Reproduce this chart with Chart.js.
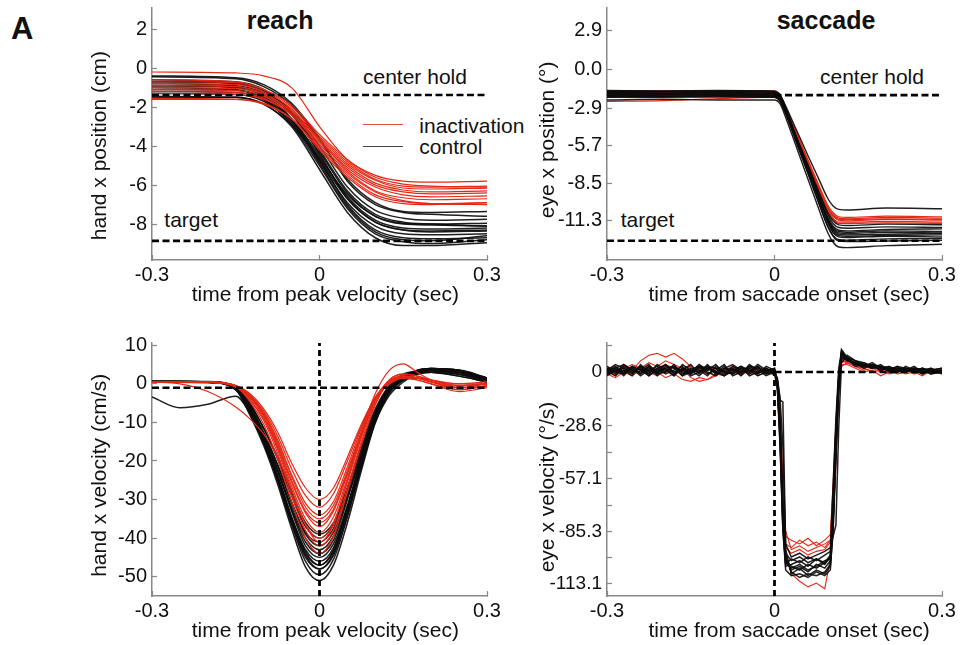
<!DOCTYPE html>
<html><head><meta charset="utf-8">
<script src="https://cdn.jsdelivr.net/npm/chart.js@4.4.0/dist/chart.umd.min.js"></script>
<style>
html,body{margin:0;padding:0;background:#fff;width:966px;height:645px;overflow:hidden;position:relative;font-family:"Liberation Sans",Arial,Helvetica,sans-serif;color:#111}
.box{position:absolute}
.t{position:absolute;white-space:pre;line-height:1;color:#111}
.lg{position:absolute;height:0;width:40px}
</style></head><body>
<div class="t" style="left:11px;top:13.3px;font-size:31px;font-weight:bold">A</div>
<div class="t" style="left:246.7px;top:8.1px;font-size:25px;font-weight:bold">reach</div>
<div class="t" style="left:776.7px;top:8.1px;font-size:25px;font-weight:bold">saccade</div>
<div class="t" style="left:363px;top:66.2px;font-size:21px">center hold</div>
<div class="t" style="left:820px;top:66.2px;font-size:21px">center hold</div>
<div class="t" style="left:164.3px;top:208.9px;font-size:21px">target</div>
<div class="t" style="left:620.7px;top:208.9px;font-size:21px">target</div>
<div class="lg" style="left:363px;top:124px;border-top:1.5px solid #e0503c"></div>
<div class="lg" style="left:363px;top:146px;border-top:1.5px solid #444"></div>
<div class="t" style="left:419.3px;top:114.5px;font-size:21px">inactivation</div>
<div class="t" style="left:419.3px;top:135.5px;font-size:21px">control</div>
<script>
// ---------------- DATA ----------------
const X_TICKS = [-0.3, 0, 0.3];
const X_TICK_LABELS = ['-0.3', '0', '0.3'];

// Top-left: hand x position (cm)
const REACH_POS_Y_TICKS = [2, 0, -2, -4, -6, -8];
const REACH_POS_Y_LABELS = ['2', '0', '-2', '-4', '-6', '-8'];
const REACH_CENTER_HOLD = -1.38;
const REACH_TARGET = -8.86;
const REACH_POS_TIME = [-0.3, -0.15, -0.1, -0.05, 0, 0.05, 0.1, 0.15, 0.2, 0.3];
const REACH_POS_RED = [
  [-0.2, -0.25, -0.4, -1.0, -3.0, -4.7, -5.5, -5.8, -5.85, -5.8],
  [-0.6, -0.7, -1.1, -2.0, -3.5, -4.8, -5.7, -6.05, -6.1, -6.05],
  [-0.9, -0.95, -1.3, -2.2, -3.7, -5.0, -5.9, -6.25, -6.35, -6.3],
  [-1.1, -1.15, -1.45, -2.3, -3.8, -5.1, -6.0, -6.35, -6.45, -6.4],
  [-1.3, -1.35, -1.6, -2.4, -3.9, -5.3, -6.3, -6.65, -6.75, -6.7],
  [-1.55, -1.6, -1.8, -2.6, -4.1, -5.5, -6.5, -6.85, -6.95, -6.9],
  [-0.8, -0.85, -1.2, -2.1, -3.7, -5.2, -6.1, -6.5, -6.6, -6.55],
  [-1.2, -1.25, -1.55, -2.4, -4.0, -5.4, -6.35, -6.8, -6.95, -7.0],
  [-1.0, -1.05, -1.35, -2.2, -3.6, -4.9, -5.75, -6.15, -6.2, -6.15],
  [-1.6, -1.6, -1.85, -2.6, -4.2, -5.6, -6.6, -6.95, -7.0, -6.9],
  [-0.7, -0.75, -1.1, -1.9, -3.4, -4.7, -5.6, -5.95, -6.05, -6.1]
];
const REACH_POS_BLACK = [
  [-0.45, -0.55, -0.95, -1.9, -3.7, -5.7, -6.9, -7.35, -7.4, -7.35],
  [-0.7, -0.8, -1.2, -2.2, -4.0, -6.1, -7.3, -7.7, -7.8, -7.75],
  [-0.9, -0.95, -1.3, -2.4, -4.3, -6.4, -7.6, -8.0, -8.05, -8.1],
  [-1.1, -1.15, -1.5, -2.6, -4.5, -6.6, -7.8, -8.2, -8.25, -8.2],
  [-0.6, -0.7, -1.1, -2.3, -4.4, -6.7, -7.9, -8.3, -8.4, -8.35],
  [-1.3, -1.35, -1.7, -2.8, -4.8, -6.9, -8.1, -8.5, -8.55, -8.5],
  [-0.8, -0.9, -1.35, -2.6, -4.7, -7.0, -8.3, -8.7, -8.75, -8.7],
  [-1.0, -1.1, -1.6, -2.9, -5.0, -7.2, -8.5, -8.9, -9.0, -8.8],
  [-1.45, -1.5, -1.85, -3.0, -5.2, -7.4, -8.7, -9.1, -9.1, -8.95],
  [-0.4, -0.5, -0.85, -1.8, -3.6, -5.8, -7.0, -7.4, -7.5, -7.6],
  [-1.2, -1.25, -1.6, -2.7, -4.6, -6.5, -7.6, -7.95, -8.0, -7.95],
  [-0.9, -1.0, -1.45, -2.7, -4.9, -7.1, -8.4, -8.8, -8.85, -8.6],
  [-1.5, -1.5, -1.85, -2.9, -4.7, -6.7, -7.9, -8.3, -8.35, -8.3],
  [-0.7, -0.75, -1.15, -2.3, -4.2, -6.3, -7.5, -7.9, -8.0, -8.1]
];

// Top-right: eye x position (deg)
const SACC_POS_Y_TICKS = [2.9, 0, -2.9, -5.7, -8.5, -11.3];
const SACC_POS_Y_LABELS = ['2.9', '0.0', '-2.9', '-5.7', '-8.5', '-11.3'];
const SACC_CENTER_HOLD = -1.94;
const SACC_TARGET = -12.79;
const SACC_POS_TIME = [-0.3, -0.2, -0.1, -0.02, 0, 0.01, 0.02, 0.04, 0.06, 0.08, 0.095, 0.105, 0.115, 0.13, 0.2, 0.3];
const SACC_POS_BLACK = [
  [-1.7, -1.68, -1.72, -1.7, -1.72, -1.95, -2.75, -4.6, -6.45, -8.25, -9.6, -10.2, -10.45, -10.5, -10.35, -10.4],
  [-1.9, -1.88, -1.92, -1.9, -1.92, -2.2, -3.1, -5.2, -7.25, -9.3, -10.8, -11.5, -11.8, -11.85, -11.75, -11.8],
  [-2.0, -2.02, -1.98, -2.0, -2.02, -2.3, -3.2, -5.35, -7.45, -9.6, -11.1, -11.8, -12.1, -12.15, -12.05, -12.1],
  [-1.6, -1.62, -1.6, -1.62, -1.65, -1.95, -2.9, -5.15, -7.4, -9.6, -11.2, -12.0, -12.3, -12.35, -12.3, -12.25],
  [-1.8, -1.8, -1.82, -1.8, -1.8, -2.1, -3.1, -5.35, -7.6, -9.8, -11.4, -12.2, -12.5, -12.55, -12.45, -12.5],
  [-2.1, -2.1, -2.08, -2.1, -2.1, -2.4, -3.35, -5.6, -7.8, -10.05, -11.65, -12.4, -12.7, -12.75, -12.65, -12.6],
  [-1.75, -1.78, -1.75, -1.78, -1.78, -2.05, -3.0, -5.15, -7.3, -9.45, -11.0, -11.7, -12.0, -12.05, -11.95, -11.9],
  [-2.3, -2.25, -2.3, -2.3, -2.3, -2.6, -3.6, -5.9, -8.2, -10.5, -12.15, -12.9, -13.25, -13.3, -13.15, -13.05],
  [-1.85, -1.85, -1.87, -1.85, -1.87, -2.2, -3.15, -5.45, -7.75, -10.05, -11.7, -12.45, -12.8, -12.85, -12.8, -12.75],
  [-1.95, -1.95, -1.93, -1.95, -1.95, -2.25, -3.1, -5.15, -7.15, -9.2, -10.65, -11.3, -11.6, -11.65, -11.55, -11.6],
  [-1.65, -1.67, -1.65, -1.65, -1.67, -2.0, -2.95, -5.2, -7.45, -9.7, -11.3, -12.1, -12.4, -12.45, -12.4, -12.35],
  [-2.05, -2.05, -2.03, -2.05, -2.05, -2.35, -3.25, -5.4, -7.55, -9.65, -11.2, -11.9, -12.2, -12.25, -12.15, -12.2]
];
const SACC_POS_RED = [
  [-1.8, -1.78, -1.8, -1.8, -1.82, -2.1, -2.9, -4.85, -6.75, -8.7, -10.1, -10.7, -11.0, -11.05, -10.95, -11.0],
  [-2.0, -2.0, -1.98, -2.0, -2.02, -2.3, -3.1, -5.05, -6.95, -8.9, -10.3, -10.9, -11.2, -11.2, -11.15, -11.2],
  [-1.6, -1.62, -1.6, -1.6, -1.62, -1.9, -2.8, -4.85, -6.9, -8.95, -10.4, -11.1, -11.4, -11.4, -11.35, -11.4],
  [-2.4, -2.35, -2.2, -2.1, -2.1, -2.4, -3.3, -5.2, -7.05, -8.9, -10.25, -10.85, -11.1, -11.15, -11.05, -11.1],
  [-1.9, -1.9, -1.88, -1.9, -1.9, -2.2, -3.05, -5.05, -7.1, -9.1, -10.55, -11.2, -11.5, -11.5, -11.45, -11.5],
  [-1.7, -1.72, -1.7, -1.7, -1.72, -2.0, -2.85, -4.85, -6.85, -8.85, -10.3, -10.95, -11.25, -11.3, -11.2, -11.25]
];

// Bottom-left: hand x velocity (cm/s)
const REACH_VEL_Y_TICKS = [10, 0, -10, -20, -30, -40, -50];
const REACH_VEL_Y_LABELS = ['10', '0', '-10', '-20', '-30', '-40', '-50'];
const REACH_VEL_ZERO = -1;
const REACH_VEL_TIME = [-0.3, -0.25, -0.2, -0.15, -0.125, -0.1, -0.075, -0.05, -0.025, 0, 0.025, 0.05, 0.075, 0.1, 0.125, 0.15, 0.175, 0.2, 0.25, 0.3];
const REACH_VEL_RED = [
  [0.5, 0.5, 0.4, -0.8, -4.5, -10.5, -19.5, -30.5, -40, -44, -39.5, -28, -16, -5.5, 0.5, 2, 1.5, 0.5, -0.5, 0],
  [0.6, 0.6, 0.5, -0.6, -4, -9.5, -18, -29, -38, -42, -38, -27, -15, -5, 0.5, 2, 1.5, 0.5, -1, -0.5],
  [0.5, 0.5, 0.4, -0.8, -4, -9, -17, -27.5, -36.5, -40, -36, -25.5, -14, -4.5, 1, 2.5, 2, 1, 0, 0.5],
  [0.6, 0.5, 0.5, -0.5, -3.5, -8.5, -16.5, -26.5, -35, -38.5, -34.5, -24.5, -13.5, -4, 1, 2.5, 2, 1, -0.5, 0],
  [0.5, 0.5, 0.4, -0.6, -3.5, -8, -16, -25.5, -33.5, -37, -33, -23.5, -13, -4, 0.5, 2, 1.5, 0.5, -1.5, -0.5],
  [0.6, 0.6, 0.5, -0.5, -3.2, -8, -15.5, -25, -33, -36, -32.5, -23, -12.5, -4, 0.5, 1.5, 1, 0, -2, -1],
  [0.5, 0.5, 0.4, -0.6, -3.2, -7.5, -15, -24, -32, -35, -31.5, -22.5, -12.5, -4, 0, 1.5, 1.5, 1, 0, 0],
  [0.5, 0.5, 0.4, -0.5, -3, -7.5, -14.5, -23.5, -31, -34, -30.5, -21.5, -11.5, -3.5, 0.5, 2, 1.5, 1, -0.5, 0],
  [0.6, 0.6, 0.5, -0.4, -2.8, -7, -13.5, -22, -29, -32, -28.5, -20, -11, -3.5, 0.5, 1.5, 1, 0, -1.5, -0.5],
  [0.5, 0.5, 0.4, -0.5, -2.5, -6.5, -12.5, -20.5, -27, -30, -27, -19, -10.5, -3.5, 0, 1.5, 1.5, 0.5, -1, 0],
  [0.5, 0, -2, -6, -9, -13, -19, -27.5, -36.5, -41, -36.5, -25, -12.5, -2.5, 3.5, 5.2, 3, 1, -0.5, 0]
];
const REACH_VEL_BLACK = [
  [0.6, 0.6, 0.5, -1.5, -8, -16, -26, -37.5, -47.5, -51, -47, -36, -22.5, -10, -2.5, 1, 3, 3.5, 3, 1],
  [0.5, 0.5, 0.4, -1.2, -7, -15, -25, -36.5, -46, -49.5, -45.5, -34.5, -21.5, -9.5, -2, 1.5, 3.5, 4, 3.5, 1.5],
  [0.7, 0.7, 0.5, -1.5, -7.5, -15.5, -25, -36, -45, -48, -44, -33, -20.5, -9, -1.5, 1.5, 3, 3.5, 3, 1],
  [0.4, 0.4, 0.3, -1, -6.5, -14, -23.5, -34.5, -43.5, -47, -43.5, -33, -21, -10, -3, 0.5, 2.5, 3, 3.5, 1.5],
  [0.6, 0.6, 0.5, -1.3, -7, -14.5, -24, -34.5, -43, -46, -42.5, -32, -19.5, -8.5, -1.5, 1.5, 3, 3.5, 2.5, 0.5],
  [0.5, 0.5, 0.4, -1, -6, -13.5, -22.5, -33, -42, -45, -41.5, -31.5, -20, -9, -2, 1, 3, 3.5, 3, 1.5],
  [0.6, 0.6, 0.6, -0.8, -5.5, -13, -22, -32.5, -41, -44, -40.5, -30, -18.5, -8, -1.5, 1.5, 3.5, 4, 3.5, 1],
  [0.5, 0.5, 0.4, -1.2, -6.5, -14, -22.5, -32, -40, -43, -39.5, -29.5, -18, -7.5, -1, 2, 3.5, 4, 3, 1],
  [0.7, 0.6, 0.5, -0.8, -5.5, -12.5, -21, -31, -39, -42, -38.5, -29, -18, -8, -1.5, 1, 3, 3.5, 3, 1.5],
  [0.5, 0.5, 0.4, -1, -6, -13, -21, -30.5, -38.5, -41, -37.5, -28, -17, -7.5, -1.5, 1.5, 3, 3.5, 2.5, 1],
  [0.6, 0.6, 0.5, -0.7, -5, -11.5, -19.5, -29, -37, -40, -36.5, -27, -16, -6.5, -0.5, 2, 3.5, 4, 3.5, 1.5],
  [0.5, 0.5, 0.4, -0.8, -5, -11.5, -19, -28, -36, -39, -36, -27, -16.5, -7, -1, 1.5, 3, 3, 2, 0.5],
  [-3.4, -6.2, -5.3, -3.2, -7.5, -15, -24.5, -35.5, -44.5, -48, -44.5, -34, -21.5, -9.5, -2, 1, 2.5, 3, 2.5, 1],
  [0.5, 0.5, 0.4, -1.5, -7, -15, -24.5, -35, -44, -47, -43, -32, -19, -7.5, -0.5, 2.5, 3.2, 3, 2, 0.5]
];

// Bottom-right: eye x velocity (deg/s)
const SACC_VEL_Y_TICKS = [14.1, 0, -14.3, -28.6, -42.9, -57.1, -71.2, -85.3, -99.2, -113.1];
const SACC_VEL_Y_LABELS = ['', '0', '', '-28.6', '', '-57.1', '', '-85.3', '', '-113.1'];
const SACC_VEL_TIME = [-0.3, -0.285, -0.27, -0.255, -0.24, -0.225, -0.21, -0.195, -0.18, -0.165, -0.15, -0.135, -0.12, -0.105, -0.09, -0.075, -0.06, -0.045, -0.03, -0.015, 0,
  0.005, 0.01, 0.015, 0.02, 0.03, 0.045, 0.06, 0.075, 0.09, 0.1, 0.105, 0.11, 0.115, 0.12, 0.13,
  0.145, 0.16, 0.175, 0.19, 0.205, 0.22, 0.235, 0.25, 0.265, 0.28, 0.3];
const SACC_VEL_BLACK = [
  [1, -2, 3, 0, 2, -1, 4, 1, -2, 2, 0, 3, -1, 1, 4, -2, 0, 2, -1, 3, 1, -6, -32, -78, -101, -104, -106, -103, -105, -102, -99, -72, -36, -4, 9, 6, 5, 3, 4, 2, 3, 1, 2, 0, 2, 1, 0],
  [-1, 2, -2, 3, 1, 4, -1, 0, 3, -2, 2, 1, -2, 3, 0, 2, -1, 4, 1, -2, 0, -4, -15, -16, -95, -108, -105, -109, -106, -108, -104, -86, -45, -10, 7, 8, 6, 4, 2, 3, 1, 3, 0, 2, -1, 1, 2],
  [3, 0, 1, -2, 4, 0, 2, -1, 1, 3, -2, 0, 4, -1, 2, 1, 3, -2, 0, 2, -1, -8, -40, -85, -103, -100, -102, -99, -101, -98, -96, -60, -25, 2, 11, 7, 4, 5, 3, 1, 2, 0, 3, 1, 2, -1, 1],
  [0, 3, -1, 2, -2, 1, 3, 0, 4, -1, 1, -2, 2, 0, 3, -1, 2, 1, -2, 0, 2, -5, -28, -70, -98, -107, -110, -108, -109, -107, -103, -80, -40, -6, 8, 6, 5, 2, 4, 3, 0, 2, 1, 3, 0, 2, 0],
  [2, -1, 4, 1, 0, 3, -2, 2, 0, 1, 4, -1, 3, 2, -2, 1, 0, 3, 2, -1, 1, -7, -35, -80, -104, -103, -101, -104, -100, -103, -99, -70, -30, -2, 10, 7, 3, 4, 2, 4, 1, 3, 2, 0, 1, 2, -1],
  [-2, 1, 0, 3, -1, 2, 0, 4, -1, 2, 1, 3, 0, -2, 2, 4, 1, -1, 3, 0, -1, -3, -14, -40, -92, -99, -97, -100, -98, -96, -94, -88, -82, -30, 5, 9, 6, 5, 3, 2, 3, 1, 0, 2, 1, 0, 1],
  [1, 4, 2, -1, 3, -2, 1, 2, 3, 0, -1, 2, 1, 4, -1, 0, 3, 1, -1, 2, 0, -6, -30, -75, -100, -106, -104, -107, -103, -105, -101, -75, -38, -5, 12, 8, 4, 3, 5, 2, 2, 0, 2, 1, -1, 1, 2],
  [2, 0, -1, 3, 1, -2, 2, 4, 0, 1, -1, 3, 2, 0, -2, 3, 1, 0, 4, 1, 0, -5, -34, -82, -102, -105, -103, -106, -104, -101, -100, -78, -42, -6, 10, 7, 5, 4, 3, 3, 1, 2, 1, 2, 0, 1, 1],
  [0, 2, 4, 1, -1, 3, 0, 2, -2, 4, 1, 0, 3, -1, 1, 2, -2, 3, 0, 1, 2, -7, -38, -84, -106, -109, -108, -110, -107, -109, -106, -82, -44, -8, 9, 8, 6, 3, 4, 1, 2, 2, 0, 1, 2, 0, 1],
  [-1, 1, 2, 0, 3, 1, -1, 3, 2, -2, 0, 4, 1, 2, 0, -1, 2, 0, 3, -1, 1, -4, -26, -72, -97, -101, -99, -102, -100, -102, -98, -76, -33, -3, 11, 7, 4, 4, 2, 3, 2, 0, 1, 2, 1, -1, 0]
];
const SACC_VEL_RED = [
  [2, 0, 3, 1, 6, 9, 10, 8, 10, 7, 3, 1, -1, 2, 0, 1, -2, 1, 0, 2, 0, -5, -25, -70, -92, -94, -90, -93, -91, -94, -90, -65, -30, -3, 6, 5, 3, 1, 2, 0, 1, -1, 0, 1, -1, 0, 1],
  [-1, -3, 0, -2, 1, -1, 0, -3, -1, -4, -5, -3, -4, -1, -2, 0, -1, 1, -2, 0, -1, -4, -22, -60, -88, -90, -92, -89, -93, -90, -87, -60, -28, -6, 4, 4, 2, 0, 1, -2, 0, 1, -1, 0, -2, 1, 0],
  [1, 3, 0, 2, -1, 3, 1, 4, 2, 0, 3, 1, 2, -1, 1, 3, 0, 2, 1, -1, 1, -6, -30, -75, -99, -108, -112, -115, -113, -116, -100, -75, -40, -8, 5, 6, 4, 2, 3, 1, 2, 0, 1, -1, 0, 1, 0],
  [0, -2, 1, -1, 2, 0, -2, 1, -1, 2, -3, -5, -4, -2, 0, -1, 1, -1, 0, 1, -2, -3, -20, -55, -85, -95, -93, -96, -94, -92, -90, -80, -50, -12, 3, 5, 3, 2, 0, 1, -1, 0, 2, -1, 1, 0, -1],
  [3, 1, 2, 4, 2, 5, 3, 6, 4, 2, 3, 1, 2, 0, 2, 1, 3, 0, 2, 1, 0, -5, -28, -68, -94, -97, -95, -98, -96, -95, -91, -62, -26, -1, 7, 5, 5, 3, 2, 3, 1, 2, 0, 1, 2, 0, 1]
];

// ---------------- CHART ----------------
const FONT = '"Liberation Sans", Arial, Helvetica, sans-serif';
Chart.defaults.font.family = FONT;
const RED = 'rgb(228,40,22)';
const BLACK = 'rgba(12,12,12,0.92)';

function series(times, vals) { return times.map((t, i) => ({ x: t, y: vals[i] })); }
function traceSets(times, list, color, width, mode) {
  return list.map(v => ({
    data: series(times, v), borderColor: color, borderWidth: width, pointRadius: 0, fill: false,
    cubicInterpolationMode: mode === 'smooth' ? 'monotone' : 'default', tension: 0
  }));
}
function hLine(y, x0, x1) {
  return { data: [{ x: x0, y: y }, { x: x1, y: y }], borderColor: '#000', borderWidth: 2.6, borderDash: [7, 3.5], pointRadius: 0, fill: false, tension: 0 };
}
function vLine(x, y0, y1) {
  return { data: [{ x: x, y: y0 }, { x: x, y: y1 }], borderColor: '#000', borderWidth: 2.8, borderDash: [6, 4], pointRadius: 0, fill: false, tension: 0 };
}
function labeler(vals, labels) {
  return v => { const i = vals.findIndex(a => Math.abs(a - v) < 1e-6); return i < 0 ? '' : labels[i]; };
}

function panel(p) {
  const W = Math.round(p.R - p.L + p.Wy + 30), H = Math.round(p.B - p.T + 30 + 60 + 2);
  const wrap = document.createElement('div');
  wrap.className = 'box';
  wrap.style.left = (p.L - p.Wy) + 'px'; wrap.style.top = (p.T - 30) + 'px';
  wrap.style.width = W + 'px'; wrap.style.height = H + 'px';
  const cv = document.createElement('canvas');
  cv.width = W; cv.height = H; cv.style.width = W + 'px'; cv.style.height = H + 'px';
  wrap.appendChild(cv); document.body.appendChild(wrap);
  const grid = { display: true, drawOnChartArea: false, drawTicks: true, tickLength: -5, tickColor: '#888', tickWidth: 1.2 };
  const border = { display: true, color: '#888', width: 1.5 };
  new Chart(cv, {
    type: 'line',
    data: { datasets: p.datasets },
    options: {
      responsive: false, animation: false, devicePixelRatio: 1,
      layout: { padding: { left: 0, top: 30, right: 30, bottom: 2 } },
      plugins: { legend: { display: false }, tooltip: { enabled: false } },
      elements: { point: { radius: 0 } },
      scales: {
        x: {
          type: 'linear', min: -0.3, max: 0.3,
          afterBuildTicks: s => { s.ticks = X_TICKS.map(v => ({ value: v })); },
          afterFit: s => { s.height = 60; },
          ticks: { autoSkip: false, maxRotation: 0, font: { size: 20 }, color: '#111', padding: 8, callback: labeler(X_TICKS, X_TICK_LABELS) },
          grid: grid, border: border,
          title: { display: true, text: p.xTitle, font: { size: 21 }, color: '#111', padding: { top: 0, bottom: p.xPad } }
        },
        y: {
          type: 'linear', min: p.yMin, max: p.yMax,
          afterBuildTicks: s => { s.ticks = p.yTicks.map(v => ({ value: v })); },
          afterFit: s => { s.width = p.Wy; },
          ticks: { autoSkip: false, font: { size: p.yFont || 20 }, color: '#111', padding: 10, callback: labeler(p.yTicks, p.yLabels) },
          grid: grid, border: border,
          title: { display: true, text: p.yTitle, font: { size: 21 }, color: '#111', padding: { top: p.yPad, bottom: 0 } }
        }
      }
    }
  });
}

// Top-left
panel({
  L: 152, T: 8, R: 487, B: 260, Wy: 70, yMin: -9.84, yMax: 3.08,
  yTicks: REACH_POS_Y_TICKS, yLabels: REACH_POS_Y_LABELS,
  yTitle: 'hand x position (cm)    ', yPad: 5.4,
  xTitle: '  time from peak velocity (sec)', xPad: 12.4,
  datasets: [hLine(REACH_CENTER_HOLD, -0.3, 0.3), hLine(REACH_TARGET, -0.3, 0.3)]
    .concat(traceSets(REACH_POS_TIME, REACH_POS_RED, RED, 1.2, 'smooth'))
    .concat(traceSets(REACH_POS_TIME, REACH_POS_BLACK, BLACK, 1.5, 'smooth'))
});
// Top-right
panel({
  L: 607, T: 8, R: 942, B: 260, Wy: 75, yMin: -14.22, yMax: 4.55,
  yTicks: SACC_POS_Y_TICKS, yLabels: SACC_POS_Y_LABELS,
  yTitle: 'eye x position (°)  ', yPad: 3.7,
  xTitle: '     time from saccade onset (sec)', xPad: 12.4,
  datasets: [hLine(SACC_CENTER_HOLD, 0, 0.3), hLine(SACC_TARGET, -0.3, 0.3)]
    .concat(traceSets(SACC_POS_TIME, SACC_POS_BLACK, BLACK, 1.4, 'smooth'))
    .concat(traceSets(SACC_POS_TIME, SACC_POS_RED, RED, 1.2, 'smooth'))
});
// Bottom-left
panel({
  L: 152, T: 343, R: 487, B: 596, Wy: 70, yMin: -55.0, yMax: 10.59,
  yTicks: REACH_VEL_Y_TICKS, yLabels: REACH_VEL_Y_LABELS,
  yTitle: 'hand x velocity (cm/s)  ', yPad: 5.4,
  xTitle: '  time from peak velocity (sec)', xPad: 11.7,
  datasets: [hLine(REACH_VEL_ZERO, -0.3, 0.3), vLine(0, -55.0, 10.59)]
    .concat(traceSets(REACH_VEL_TIME, REACH_VEL_RED, RED, 1.2, 'smooth'))
    .concat(traceSets(REACH_VEL_TIME, REACH_VEL_BLACK, BLACK, 1.5, 'smooth'))
});
// Bottom-right
panel({
  L: 607, T: 343, R: 942, B: 596, Wy: 75, yMin: -119.9, yMax: 15.54, yFont: 19,
  yTicks: SACC_VEL_Y_TICKS, yLabels: SACC_VEL_Y_LABELS,
  yTitle: 'eye x velocity (°/s)      ', yPad: 3.4,
  xTitle: '     time from saccade onset (sec)', xPad: 11.7,
  datasets: [hLine(0, 0, 0.3), vLine(0, -119.9, 15.54)]
    .concat(traceSets(SACC_VEL_TIME, SACC_VEL_BLACK, BLACK, 1.5, 'linear'))
    .concat(traceSets(SACC_VEL_TIME, SACC_VEL_RED, RED, 1.1, 'linear'))
});
</script>
</body></html>
